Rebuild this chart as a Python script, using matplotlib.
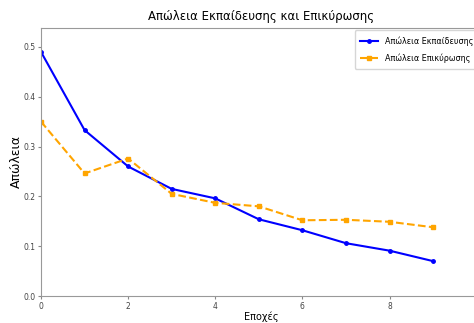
import matplotlib
matplotlib.use("Agg")
import matplotlib.pyplot as plt

epochs = list(range(10))
train_loss = [0.490, 0.333, 0.260, 0.215, 0.196, 0.154, 0.132, 0.106, 0.091, 0.070]
val_loss = [0.350, 0.246, 0.276, 0.205, 0.187, 0.180, 0.152, 0.153, 0.149, 0.138]

fig = plt.figure(figsize=(4.74, 3.23), dpi=100)
ax = fig.add_axes([41 / 474, 1 - 296 / 323, 440 / 474, (296 - 28) / 323])

ax.plot(epochs, train_loss, color='blue', marker='o', markersize=2.5, lw=1.5,
        label='Απώλεια Εκπαίδευσης')
ax.plot(epochs, val_loss, color='orange', ls='--', marker='s', markersize=3, lw=1.5,
        label='Απώλεια Επικύρωσης')

ax.set_xlim(0, 10.1)
ax.set_ylim(0, 0.538)
ax.set_xticks([0, 2, 4, 6, 8])
ax.set_yticks([0.0, 0.1, 0.2, 0.3, 0.4, 0.5])
ax.tick_params(labelsize=5.5, length=2.5, pad=1.5, color='#888888', labelcolor='#444444')
for s in ax.spines.values():
    s.set_color('#999999')

ax.set_title('Απώλεια Εκπαίδευσης και Επικύρωσης', fontsize=8.5, pad=6)
ax.set_xlabel('Εποχές', fontsize=7, labelpad=1)
ax.set_ylabel('Απώλεια', fontsize=9, labelpad=0.5)
ax.legend(loc='upper right', fontsize=5.8, handlelength=2.2, borderaxespad=0.3,
          labelspacing=1.0, borderpad=0.7)

fig.savefig('out.png', dpi=100)
